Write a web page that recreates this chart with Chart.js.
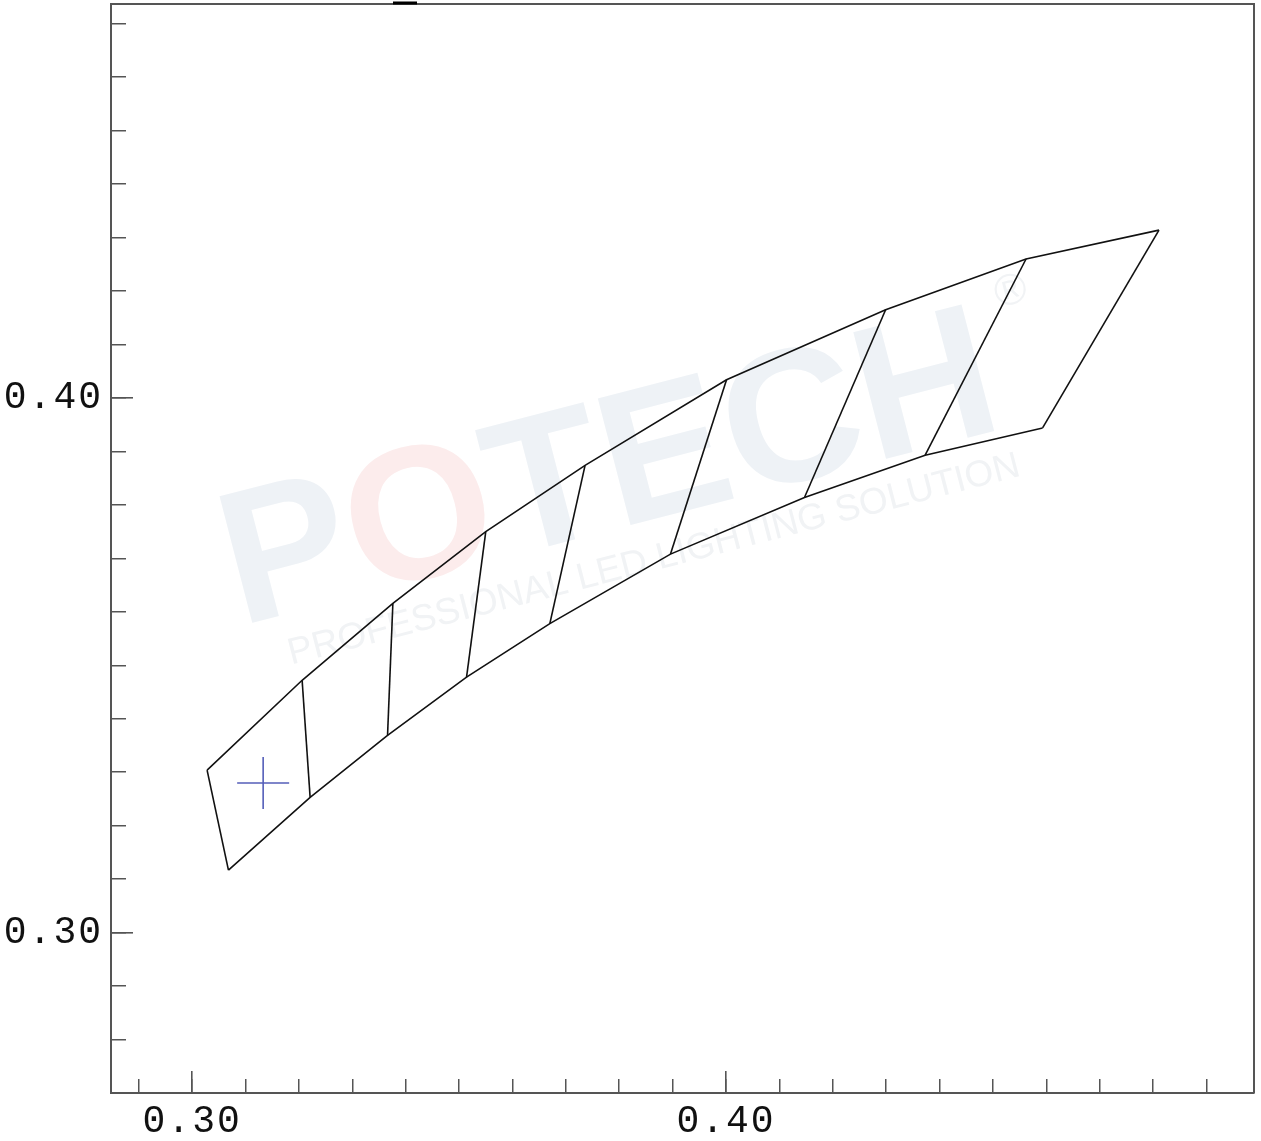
<!DOCTYPE html>
<html>
<head>
<meta charset="utf-8">
<script src="https://cdn.jsdelivr.net/npm/chart.js@4.4.1/dist/chart.umd.min.js"></script>
<style>
  html, body { margin: 0; padding: 0; background: #fff; }
  canvas { display: block; }
</style>
</head>
<body>
<canvas id="binChart" width="1261" height="1141"></canvas>
<script>
// bin outline (cool end first)
const upperX = [0.3028, 0.3206, 0.3376, 0.3550, 0.3736, 0.4001, 0.4299, 0.4562, 0.4811]
const upperY = [0.3304, 0.3472, 0.3616, 0.3750, 0.3874, 0.4034, 0.4165, 0.4260, 0.4314]
const lowerX = [0.3068, 0.3221, 0.3366, 0.3514, 0.3670, 0.3896, 0.4147, 0.4373, 0.4593]
const lowerY = [0.3117, 0.3253, 0.3369, 0.3478, 0.3578, 0.3708, 0.3814, 0.3893, 0.3944]

// measured point (blue cross)
const markX = [0.3133]
const markY = [0.3280]

// axes
const xRange = [0.2848, 0.4989]
const yRange = [0.27, 0.4737]
const xLabelTicks = [0.30, 0.40]
const yLabelTicks = [0.30, 0.40]
const xMinorTicks = [0.29, 0.30, 0.31, 0.32, 0.33, 0.34, 0.35, 0.36, 0.37, 0.38, 0.39,
                     0.40, 0.41, 0.42, 0.43, 0.44, 0.45, 0.46, 0.47, 0.48, 0.49]
const yMinorTicks = [0.27, 0.28, 0.29, 0.30, 0.31, 0.32, 0.33, 0.34, 0.35, 0.36, 0.37,
                     0.38, 0.39, 0.40, 0.41, 0.42, 0.43, 0.44, 0.45, 0.46, 0.47]

const LINE = '#111'
const AXIS = '#555'
const tickFont = { family: '"Liberation Mono", "Courier New", monospace', size: 38 }

function toPoints(xs, ys) {
  return xs.map((x, i) => ({ x: x, y: ys[i] }))
}

function lineSet(points) {
  return {
    data: points,
    showLine: true,
    borderColor: LINE,
    borderWidth: 1.6,
    pointRadius: 0,
    fill: false,
  }
}

const datasets = [
  lineSet(toPoints(upperX, upperY)),
  lineSet(toPoints(lowerX, lowerY)),
]
// edges + dividers between neighbouring bins
upperX.forEach((x, i) => {
  datasets.push(lineSet([{ x: x, y: upperY[i] }, { x: lowerX[i], y: lowerY[i] }]))
})
datasets.push({
  data: toPoints(markX, markY),
  showLine: false,
  pointStyle: 'cross',
  pointRadius: 26,
  borderColor: 'rgb(85, 95, 185)',
  borderWidth: 1.6,
})

// axis boxes keep a fixed size, no extra label padding
function fixBox(size) {
  return axis => {
    if (axis.isHorizontal()) axis.height = size
    else axis.width = size
    axis.paddingTop = 0
    axis.paddingBottom = 0
    axis.paddingLeft = 0
    axis.paddingRight = 0
  }
}

// faint logo, frame on top/right, little mark at the top edge
const decorPlugin = {
  id: 'decor',
  beforeDraw(chart) {
    chart.ctx.letterSpacing = '2px'
  },
  beforeDatasetsDraw(chart) {
    const ctx = chart.ctx
    ctx.save()
    ctx.letterSpacing = '0px'
    ctx.translate(240, 626)
    ctx.rotate(-14.5 * Math.PI / 180)
    ctx.font = 'bold 190px "Liberation Sans", Arial, sans-serif'
    ctx.textBaseline = 'alphabetic'
    const parts = [['P', '#eef2f6'], ['O', '#fcecec'], ['TECH', '#eef2f6']]
    let x = 0
    parts.forEach(([t, c]) => {
      ctx.fillStyle = c
      ctx.fillText(t, x, 0)
      x += ctx.measureText(t).width
    })
    ctx.font = '44px "Liberation Sans", Arial, sans-serif'
    ctx.fillStyle = '#f1f3f5'
    ctx.fillText('\u00AE', x + 22, -118)
    ctx.font = '37px "Liberation Sans", Arial, sans-serif'
    ctx.fillText('PROFESSIONAL LED LIGHTING SOLUTION', 40, 50)
    ctx.restore()
  },
  afterDraw(chart) {
    const { ctx, chartArea } = chart
    ctx.save()
    ctx.strokeStyle = AXIS
    ctx.lineWidth = 2
    ctx.beginPath()
    ctx.moveTo(chartArea.left, chartArea.top)
    ctx.lineTo(chartArea.right, chartArea.top)
    ctx.lineTo(chartArea.right, chartArea.bottom)
    ctx.stroke()
    ctx.fillStyle = '#000'
    ctx.fillRect(393, 1.5, 24, 3)
    ctx.restore()
  }
}

const fmt = v => Number(v).toFixed(2)

new Chart(document.getElementById('binChart'), {
  type: 'scatter',
  data: { datasets: datasets },
  options: {
    responsive: false,
    devicePixelRatio: 1,
    animation: false,
    layout: { autoPadding: false, padding: { top: 4, right: 7, left: 0, bottom: 0 } },
    plugins: {
      legend: { display: false },
      tooltip: { enabled: false },
    },
    scales: {
      x: {
        type: 'linear',
        position: 'bottom',
        weight: 1,
        min: xRange[0],
        max: xRange[1],
        afterBuildTicks: axis => { axis.ticks = xLabelTicks.map(v => ({ value: v })) },
        afterFit: fixBox(48),
        grid: { drawOnChartArea: false, tickLength: -22, color: AXIS, lineWidth: 1.6 },
        border: { color: AXIS, width: 2 },
        ticks: { callback: fmt, font: tickFont, color: '#111', padding: 28, maxRotation: 0 },
      },
      xm: {
        type: 'linear',
        position: 'bottom',
        weight: 0,
        min: xRange[0],
        max: xRange[1],
        afterBuildTicks: axis => { axis.ticks = xMinorTicks.map(v => ({ value: v })) },
        afterFit: fixBox(0),
        grid: { drawOnChartArea: false, tickLength: -14, color: AXIS, lineWidth: 1.5 },
        border: { display: false },
        ticks: { display: false },
      },
      y: {
        type: 'linear',
        position: 'left',
        weight: 1,
        min: yRange[0],
        max: yRange[1],
        afterBuildTicks: axis => { axis.ticks = yLabelTicks.map(v => ({ value: v })) },
        afterFit: fixBox(111),
        grid: { drawOnChartArea: false, tickLength: -22, color: AXIS, lineWidth: 1.6 },
        border: { color: AXIS, width: 2 },
        ticks: { callback: fmt, font: tickFont, color: '#111', padding: 30 },
      },
      ym: {
        type: 'linear',
        position: 'left',
        weight: 0,
        min: yRange[0],
        max: yRange[1],
        afterBuildTicks: axis => { axis.ticks = yMinorTicks.map(v => ({ value: v })) },
        afterFit: fixBox(0),
        grid: { drawOnChartArea: false, tickLength: -15, color: AXIS, lineWidth: 1.5 },
        border: { display: false },
        ticks: { display: false },
      },
    },
  },
  plugins: [decorPlugin],
})
</script>
</body>
</html>
